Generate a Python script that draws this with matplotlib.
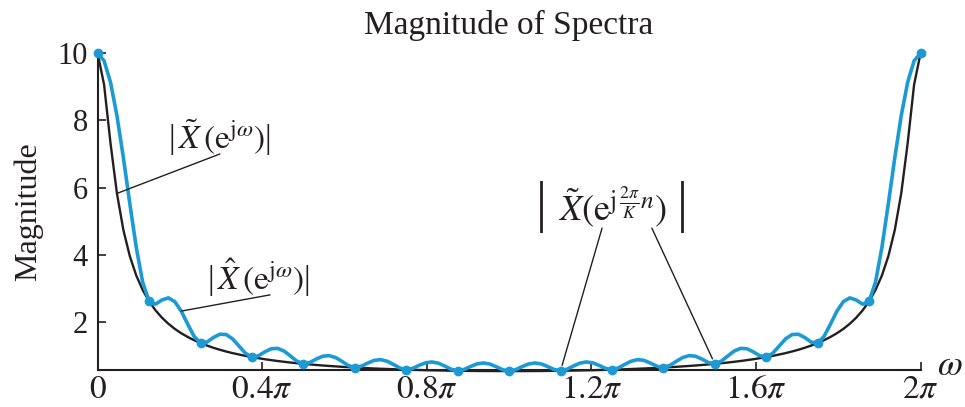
# Magnitude of spectra: DTFT of x[n] = 0.9^n u[n], its K = 16 frequency
# samples, and the spectrum rebuilt from those samples.

import numpy as np
import matplotlib.pyplot as plt

plt.rcParams['font.family'] = ['Liberation Serif', 'DejaVu Serif']
plt.rcParams['mathtext.fontset'] = 'stix'

# ── Data (ω in units of π from 0 to 2) ───────────────────────────────────────
K = 16

# |X(e^jω)|, black curve
mag_dtft = [
    10.000, 9.065, 7.319, 5.824, 4.736, 3.955, 3.380, 2.946,
    2.608, 2.339, 2.120, 1.939, 1.786, 1.657, 1.546, 1.449,
    1.364, 1.290, 1.223, 1.164, 1.111, 1.063, 1.020, 0.980,
    0.944, 0.912, 0.881, 0.854, 0.828, 0.804, 0.782, 0.762,
    0.743, 0.726, 0.710, 0.694, 0.680, 0.667, 0.655, 0.643,
    0.633, 0.623, 0.613, 0.605, 0.597, 0.589, 0.582, 0.576,
    0.570, 0.564, 0.559, 0.554, 0.550, 0.546, 0.543, 0.539,
    0.537, 0.534, 0.532, 0.530, 0.529, 0.528, 0.527, 0.527,
    0.526,
    0.527, 0.527, 0.528, 0.529, 0.530, 0.532, 0.534,
    0.537, 0.539, 0.543, 0.546, 0.550, 0.554, 0.559, 0.564,
    0.570, 0.576, 0.582, 0.589, 0.597, 0.605, 0.613, 0.623,
    0.633, 0.643, 0.655, 0.667, 0.680, 0.694, 0.710, 0.726,
    0.743, 0.762, 0.782, 0.804, 0.828, 0.854, 0.881, 0.912,
    0.944, 0.980, 1.020, 1.063, 1.111, 1.164, 1.223, 1.290,
    1.364, 1.449, 1.546, 1.657, 1.786, 1.939, 2.120, 2.339,
    2.608, 2.946, 3.380, 3.955, 4.736, 5.824, 7.319, 9.065,
    10.000,
]

# |X^(e^jω)|, blue curve rebuilt from the K samples
mag_rebuilt = [
    10.000, 9.778, 9.137, 8.140, 6.890, 5.527, 4.220, 3.178,
    2.608, 2.523, 2.647, 2.710, 2.598, 2.316, 1.930, 1.563,
    1.364, 1.392, 1.527, 1.627, 1.616, 1.486, 1.273, 1.057,
    0.944, 0.984, 1.100, 1.194, 1.205, 1.124, 0.976, 0.822,
    0.743, 0.783, 0.886, 0.970, 0.989, 0.932, 0.818, 0.694,
    0.633, 0.672, 0.765, 0.846, 0.869, 0.823, 0.727, 0.621,
    0.570, 0.608, 0.698, 0.774, 0.800, 0.763, 0.678, 0.581,
    0.537, 0.576, 0.664, 0.741, 0.770, 0.738, 0.658, 0.568,
    0.526,
    0.568, 0.658, 0.738, 0.770, 0.741, 0.664, 0.576,
    0.537, 0.581, 0.678, 0.763, 0.800, 0.774, 0.698, 0.608,
    0.570, 0.621, 0.727, 0.823, 0.869, 0.846, 0.765, 0.672,
    0.633, 0.694, 0.818, 0.932, 0.989, 0.970, 0.886, 0.783,
    0.743, 0.822, 0.976, 1.124, 1.205, 1.194, 1.100, 0.984,
    0.944, 1.057, 1.273, 1.486, 1.616, 1.627, 1.527, 1.392,
    1.364, 1.563, 1.930, 2.316, 2.598, 2.710, 2.647, 2.523,
    2.608, 3.178, 4.220, 5.527, 6.890, 8.140, 9.137, 9.778,
    10.000,
]

# |X~(e^{j2πn/K})|, the sample dots, n = 0..K
sample_mag = [10.000, 2.608, 1.364, 0.944, 0.743, 0.633, 0.570, 0.537, 0.526,
              0.537, 0.570, 0.633, 0.743, 0.944, 1.364, 2.608, 10.000]

xtick_vals = [0, 0.4, 0.8, 1.2, 1.6, 2.0]
xtick_labels = ['$0$', r'$0.4\pi$', r'$0.8\pi$', r'$1.2\pi$', r'$1.6\pi$', r'$2\pi$']
ytick_vals = [2, 4, 6, 8, 10]

omega = np.linspace(0, 2, len(mag_dtft))
omega_n = 2 * np.arange(K + 1) / K

BLUE = '#1b9ad6'
INK = '#231f20'

# ── Figure ────────────────────────────────────────────────────────────────────
fig = plt.figure(figsize=(9.65, 4.07), dpi=100)
ax = fig.add_axes([0.1012, 0.0909, 0.8527, 0.778])

ax.plot(omega, mag_dtft, color=INK, lw=1.7, clip_on=False, zorder=2)
ax.plot(omega, mag_rebuilt, color=BLUE, lw=2.6, clip_on=False, zorder=3,
        solid_capstyle='round', solid_joinstyle='round')
ax.plot(omega_n, sample_mag, 'o', color=BLUE, ms=6, clip_on=False, zorder=4)

ax.set_xlim(0, 2)
ax.set_ylim(0.56, 10)
ax.set_xticks(xtick_vals)
ax.set_xticklabels(xtick_labels)
ax.set_yticks(ytick_vals)
ax.tick_params(direction='in', length=6, width=1.2, colors=INK)
ax.tick_params(axis='x', pad=3, labelsize=24)
ax.tick_params(axis='y', pad=7, labelsize=22)
for side in ['top', 'right']:
    ax.spines[side].set_visible(False)
for side in ['left', 'bottom']:
    ax.spines[side].set_linewidth(1.5)
    ax.spines[side].set_color(INK)

ax.set_title('Magnitude of Spectra', fontsize=24, pad=14, color=INK)
ax.set_ylabel('Magnitude', fontsize=23, color=INK)
ax.yaxis.set_label_coords(-0.066, 0.5)
ax.text(2.072, 0.65, r'$\omega$', fontsize=26, ha='center', va='center',
        color=INK, clip_on=False)

# ── Labels with leader lines ──────────────────────────────────────────────────
# the bars are plain serif text: thin and full height, like the reference
line_kw = dict(arrowstyle='-', color=INK, lw=1.0, shrinkA=0, shrinkB=0)

ax.text(0.295, 7.5, r'|$\,\tilde{X}\,(\mathrm{e}^{\mathrm{j}\omega})$|',
        fontsize=24, ha='center', va='center', color=INK)
ax.annotate('', xy=(omega[3], mag_dtft[3]), xytext=(0.297, 7.0),
            arrowprops=line_kw, annotation_clip=False)

ax.text(0.390, 3.3, r'|$\,\hat{X}\,(\mathrm{e}^{\mathrm{j}\omega})$|',
        fontsize=24, ha='center', va='center', color=INK)
ax.annotate('', xy=(omega[13], mag_rebuilt[13]), xytext=(0.419, 2.8),
            arrowprops=line_kw, annotation_clip=False)

ax.text(1.252, 5.42,
        r'$\tilde{X}\left(\mathrm{e}^{\mathrm{j}\,\frac{2\pi}{K}n}\right)$',
        fontsize=26, ha='center', va='center', color=INK)
for x_bar in [1.078, 1.421]:
    ax.text(x_bar, 5.42, '|', fontsize=40, ha='center', va='center', color=INK)
for n, x0 in [(9, 1.226), (12, 1.347)]:
    ax.annotate('', xy=(omega_n[n], sample_mag[n]), xytext=(x0, 4.79),
                arrowprops=dict(line_kw, shrinkB=4), annotation_clip=False)

fig.savefig('out.png', dpi=100)
